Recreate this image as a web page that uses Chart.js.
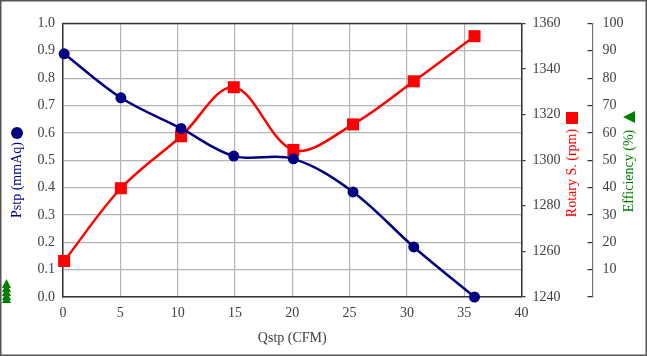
<!DOCTYPE html>
<html>
<head>
<meta charset="utf-8">
<script src="https://cdn.jsdelivr.net/npm/chart.js@4.4.1/dist/chart.umd.min.js"></script>
<style>
html,body{margin:0;padding:0;background:#fff;}
#wrap{width:647px;height:356px;position:relative;}
</style>
</head>
<body>
<div id="wrap"><canvas id="c"></canvas></div>
<script>
// ---- data ----
const qstp = [0.1, 5.05, 10.3, 14.9, 20.1, 25.3, 30.6, 35.9];
const pstp = [0.889, 0.728, 0.616, 0.515, 0.505, 0.384, 0.183, 0.0];
const rpm = [1255.8, 1287.7, 1310.5, 1332.0, 1304.5, 1315.7, 1334.6, 1354.4];
const xTicks = [0, 40, 5];
const pTicks = [0, 1, 0.1];
const rTicks = [1240, 1360, 20];
const eTicks = [0, 100, 10];
const titles = {x: 'Qstp (CFM)', p: 'Pstp (mmAq)', r: 'Rotary S. (rpm)', e: 'Efficiency (%)'};

const NAVY = '#000080', RED = '#ff0000', GREEN = '#008000';
const FONT = 'Liberation Serif, Times New Roman, serif';
const TXT = '#404040';

const decor = {
  id: 'decor',
  beforeDatasetsDraw(chart) {
    const {ctx, chartArea: a} = chart;
    ctx.save();
    ctx.strokeStyle = '#333';
    ctx.lineWidth = 1.5;
    ctx.beginPath();
    ctx.moveTo(a.left, a.top);
    ctx.lineTo(a.right, a.top);
    ctx.stroke();
    ctx.restore();
  },
  afterDraw(chart) {
    const {ctx} = chart;
    ctx.save();
    // outer frame
    ctx.strokeStyle = '#555';
    ctx.lineWidth = 1.5;
    ctx.strokeRect(0.75, 0.75, chart.width - 1.5, chart.height - 1.5);
    ctx.font = '14px ' + FONT;
    ctx.textAlign = 'center';
    ctx.textBaseline = 'middle';
    const rot = (txt, x, y, col) => {
      ctx.save();
      ctx.translate(x, y);
      ctx.rotate(-Math.PI / 2);
      ctx.fillStyle = col;
      ctx.fillText(txt, 0, 0);
      ctx.restore();
    };
    // left title + marker
    rot(titles.p, 17, 180, NAVY);
    ctx.fillStyle = NAVY;
    ctx.beginPath(); ctx.arc(17, 133, 6, 0, Math.PI * 2); ctx.fill();
    // rpm title + marker
    rot(titles.r, 572, 173, RED);
    ctx.fillStyle = RED;
    ctx.fillRect(566, 112, 12, 12);
    // efficiency title + marker
    rot(titles.e, 629, 171, GREEN);
    ctx.fillStyle = GREEN;
    ctx.beginPath(); ctx.moveTo(623, 117); ctx.lineTo(635, 111); ctx.lineTo(635, 123); ctx.closePath(); ctx.fill();
    // green triangle cluster bottom-left
    [279, 283, 287, 291, 294].forEach(y0 => {
      ctx.beginPath(); ctx.moveTo(6.5, y0); ctx.lineTo(11, y0 + 9); ctx.lineTo(2, y0 + 9); ctx.closePath(); ctx.fill();
    });
    ctx.restore();
  }
};

new Chart(document.getElementById('c'), {
  type: 'line',
  data: {
    datasets: [
      {
        label: titles.p, yAxisID: 'y',
        data: qstp.map((x, i) => ({x, y: pstp[i]})),
        borderColor: NAVY, backgroundColor: NAVY, borderWidth: 2.5,
        pointRadius: 5.5, pointBorderWidth: 0, pointStyle: 'circle',
        tension: 0.35, clip: false
      },
      {
        label: titles.r, yAxisID: 'y1',
        data: qstp.map((x, i) => ({x, y: rpm[i]})),
        borderColor: RED, backgroundColor: RED, borderWidth: 2.5,
        pointRadius: 8.5, pointBorderWidth: 0, pointStyle: 'rect',
        tension: 0.35, clip: false
      }
    ]
  },
  options: {
    responsive: true, maintainAspectRatio: false, animation: false,
    devicePixelRatio: 1,
    layout: {padding: {top: 18.5, right: 0, bottom: 0, left: 0}},
    plugins: {legend: {display: false}, tooltip: {enabled: false}},
    scales: {
      x: {
        type: 'linear', min: xTicks[0], max: xTicks[1],
        ticks: {stepSize: xTicks[2], color: TXT, font: {family: FONT, size: 14}, padding: 8, maxRotation: 0},
        grid: {color: '#b4b4b4', lineWidth: 1.2, drawTicks: false},
        border: {color: '#333', width: 1.5},
        title: {display: true, text: titles.x, color: TXT, font: {family: FONT, size: 14}, padding: {top: 0, bottom: 9}},
        afterFit(s) { s.height = 59; }
      },
      y: {
        position: 'left', min: pTicks[0], max: pTicks[1],
        ticks: {stepSize: pTicks[2], color: TXT, font: {family: FONT, size: 14}, padding: 8, callback: v => v.toFixed(1)},
        grid: {color: '#b4b4b4', lineWidth: 1.2, drawTicks: false},
        border: {color: '#333', width: 1.5},
        afterFit(s) { s.width = 63; }
      },
      y1: {
        position: 'right', min: rTicks[0], max: rTicks[1],
        ticks: {stepSize: rTicks[2], color: TXT, font: {family: FONT, size: 14}, padding: 7, callback: v => String(v)},
        grid: {drawOnChartArea: false, drawTicks: true, tickLength: 4, color: '#333', lineWidth: 1.2},
        border: {color: '#333', width: 1.5},
        afterFit(s) { s.width = 71; }
      },
      y2: {
        position: 'right', min: eTicks[0], max: eTicks[1],
        ticks: {stepSize: eTicks[2], color: TXT, font: {family: FONT, size: 14}, padding: 15,
          callback: v => v === 0 ? '' : String(v)},
        grid: {drawOnChartArea: false, drawTicks: true, tickLength: -5, color: '#333', lineWidth: 1.2},
        border: {color: '#777', width: 1.2},
        afterFit(s) { s.width = 54.5; }
      }
    }
  },
  plugins: [decor]
});
</script>
</body>
</html>
